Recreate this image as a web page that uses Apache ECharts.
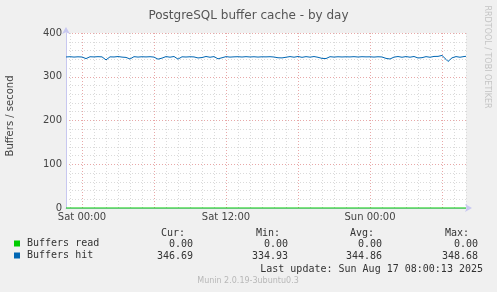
<!DOCTYPE html>
<html>
<head>
<meta charset="utf-8">
<script src="https://cdn.jsdelivr.net/npm/echarts@6/dist/echarts.min.js"></script>
<style>
html,body{margin:0;padding:0;background:#f0f0f0;}
#c{width:497px;height:292px;}
</style>
</head>
<body>
<div id="c"></div>
<script>
// ---- data ----
var titleText = 'PostgreSQL buffer cache - by day';
var yAxisName = 'Buffers / second';
var startDay = 'Fri', startMinute = 22 * 60 + 40; // first sample Fri 22:40, 10-minute steps
var stepMinutes = 10;
var tickLabels = ['Sat 00:00', 'Sat 12:00', 'Sun 00:00'];
var seriesNames = ['Buffers read', 'Buffers hit'];
var seriesColors = ['#00cc00', '#0066b3'];
var buffersHit = [
  345.2, 344.6, 345.8, 346.1, 345.0, 344.3, 345.6, 346.0, 345.1, 342.8,
  341.5, 344.9, 345.7, 346.2, 345.3, 344.8, 345.9, 346.3, 345.4, 343.6,
  338.6, 342.9, 345.5, 346.0, 345.2, 344.7, 346.2, 345.8, 344.9, 345.6,
  344.2, 342.1, 340.6, 344.3, 345.9, 346.1, 345.0, 344.5, 345.7, 346.4,
  345.3, 344.6, 345.8, 346.0, 344.9, 343.5, 340.2, 337.1, 342.6, 345.4,
  346.1, 345.2, 344.7, 345.9, 346.3, 344.1, 340.3, 343.2, 345.6, 346.0,
  345.1, 344.4, 345.7, 346.2, 345.3, 344.8, 343.0, 341.2, 343.9, 345.8,
  346.3, 345.0, 344.6, 345.9, 346.1, 344.2, 341.0, 338.2, 343.4, 345.7,
  346.0, 345.3, 344.9, 346.2, 345.5, 344.6, 345.8, 346.4, 345.1, 344.7,
  345.9, 346.1, 345.2, 344.5, 345.7, 346.3, 345.0, 344.8, 345.6, 346.0,
  345.4, 344.3, 345.8, 346.2, 345.1, 344.6, 343.4, 342.0, 343.1, 341.3,
  344.6, 345.9, 346.1, 345.2, 344.7, 345.8, 346.3, 345.0, 344.4, 345.7,
  346.0, 345.3, 344.8, 345.9, 346.2, 345.1, 344.5, 343.2, 342.0, 341.1,
  341.6, 344.4, 345.8, 346.1, 345.0, 344.6, 345.7, 346.4, 345.2, 344.9,
  345.6, 346.0, 345.3, 344.7, 345.9, 346.2, 345.1, 344.5, 345.8, 346.3,
  345.4, 344.8, 345.6, 346.1, 345.0, 344.4, 345.7, 346.0, 345.2, 343.8,
  342.0, 341.5, 340.6, 342.4, 344.9, 345.8, 346.2, 345.3, 344.6, 345.9,
  346.1, 345.2, 344.7, 345.8, 346.3, 344.2, 342.9, 341.5, 343.6, 345.7,
  346.0, 345.1, 344.6, 345.9, 346.4, 345.3, 346.6, 347.5, 348.68, 347.2,
  339.8, 334.93, 338.5, 343.2, 345.6, 346.1, 345.0, 344.6, 345.8, 346.2,
  346.69
];
var buffersRead = [
  0,0,0,0,0,0,0,0,0,0, 0,0,0,0,0,0,0,0,0,0,
  0,0,0,0,0,0,0,0,0,0, 0,0,0,0,0,0,0,0,0,0,
  0,0,0,0,0,0,0,0,0,0, 0,0,0,0,0,0,0,0,0,0,
  0,0,0,0,0,0,0,0,0,0, 0,0,0,0,0,0,0,0,0,0,
  0,0,0,0,0,0,0,0,0,0, 0,0,0,0,0,0,0,0,0,0,
  0,0,0,0,0,0,0,0,0,0, 0,0,0,0,0,0,0,0,0,0,
  0,0,0,0,0,0,0,0,0,0, 0,0,0,0,0,0,0,0,0,0,
  0,0,0,0,0,0,0,0,0,0, 0,0,0,0,0,0,0,0,0,0,
  0,0,0,0,0,0,0,0,0,0, 0,0,0,0,0,0,0,0,0,0,
  0,0,0,0,0,0,0,0,0,0, 0,0,0,0,0,0,0,0,0,0,
  0
];
var statHeaders = ['Cur:', 'Min:', 'Avg:', 'Max:'];
var statsRead = [0.00, 0.00, 0.00, 0.00];
var statsHit = [346.69, 334.93, 344.86, 348.68];
var lastUpdate = 'Last update: Sun Aug 17 08:00:13 2025';
var footerText = 'Munin 2.0.19-3ubuntu0.3';
var sideText = 'RRDTOOL / TOBI OETIKER';
var yTicks = [0, 100, 200, 300, 400];

// ---- time categories (x positions) ----
var days = ['Fri', 'Sat', 'Sun'];
function pad(n){ return (n < 10 ? '0' : '') + n; }
var categories = [];
for (var i = 0; i < buffersHit.length; i++) {
  var m = startMinute + i * stepMinutes;
  var d = days[Math.floor(m / 1440)];
  var mm = m % 1440;
  categories.push(d + ' ' + pad(Math.floor(mm / 60)) + ':' + pad(mm % 60));
}
function isHour(v){ return v.slice(-2) === '00'; }
function isSixHour(v){ return v.slice(-2) === '00' && (parseInt(v.slice(4,6),10) % 6 === 0); }

var mono = 'DejaVu Sans Mono';
var sans = 'DejaVu Sans';
var legColor = '#333';
var colRight = [193, 288, 382, 478];
var headRight = [185, 280, 374, 469];
var graphics = [];
statHeaders.forEach(function(h, k){
  graphics.push({type:'text', x: headRight[k], y: 233, style:{text:h, font:'10px ' + mono, fill:legColor, align:'right', verticalAlign:'middle'}});
  graphics.push({type:'text', x: colRight[k], y: 244, style:{text:statsRead[k].toFixed(2), font:'10px ' + mono, fill:legColor, align:'right', verticalAlign:'middle'}});
  graphics.push({type:'text', x: colRight[k], y: 256, style:{text:statsHit[k].toFixed(2), font:'10px ' + mono, fill:legColor, align:'right', verticalAlign:'middle'}});
});
graphics.push({type:'text', x: 483, y: 269, style:{text:lastUpdate, font:'10px ' + mono, fill:legColor, align:'right', verticalAlign:'middle'}});
graphics.push({type:'text', x: 248, y: 281, style:{text:footerText, font:'8px ' + sans, fill:'#b8b8b8', align:'center', verticalAlign:'middle'}});
graphics.push({type:'text', x: 487, y: 57, rotation: -Math.PI/2, style:{text:sideText, font:'8px ' + sans, fill:'#c4c4c4', align:'center', verticalAlign:'middle'}});
graphics.push({type:'text', x: 10, y: 116, rotation: Math.PI/2, style:{text:yAxisName, font:'10px ' + sans, fill:'#444', align:'center', verticalAlign:'middle'}});

var chart = echarts.init(document.getElementById('c'), null, {renderer:'canvas'});
chart.setOption({
  backgroundColor: '#f0f0f0',
  animation: false,
  title: {
    text: titleText, left: 'center', top: 5,
    textStyle: {fontFamily: sans, fontSize: 12, fontWeight: 'normal', color: '#555'}
  },
  legend: {
    orient: 'vertical', left: 14, top: 238, padding: 0, itemGap: 1,
    itemWidth: 6, itemHeight: 6, icon: 'rect',
    data: seriesNames,
    textStyle: {fontFamily: mono, fontSize: 10, color: legColor, lineHeight: 11, padding: [0,0,0,2]}
  },
  grid: {left: 66, top: 33, width: 400, height: 175, show: true, backgroundColor: '#ffffff', borderWidth: 0, containLabel: false},
  xAxis: [{
    type: 'category', data: categories, boundaryGap: false,
    axisLine: {show: false},
    axisTick: {show: false},
    axisLabel: {show: false},
    splitLine: {show: true, interval: function(idx, v){ return isHour(v) && !isSixHour(v); }, lineStyle: {color: '#dadada', type: [1, 2], width: 1}}
  }, {
    type: 'category', data: categories, boundaryGap: false, position: 'bottom',
    axisLine: {show: true, lineStyle: {color: '#c8c8f0', width: 1}, symbol: ['none', 'arrow'], symbolSize: [6, 7], symbolOffset: [0, 6]},
    axisTick: {show: false},
    axisLabel: {show: true, interval: function(idx, v){ return tickLabels.indexOf(v) >= 0; }, fontFamily: sans, fontSize: 10, color: '#444', margin: 4},
    splitLine: {show: true, interval: function(idx, v){ return isSixHour(v); }, lineStyle: {color: '#e8a8a8', type: [1, 2], width: 1}}
  }],
  yAxis: {
    type: 'value', min: 0, max: 400, interval: 100,
    axisLine: {show: true, lineStyle: {color: '#c8c8f0', width: 1}, symbol: ['none', 'arrow'], symbolSize: [6, 7], symbolOffset: [0, 6]},
    axisTick: {show: false},
    axisLabel: {fontFamily: sans, fontSize: 10, color: '#444', margin: 4, customValues: yTicks},
    splitLine: {show: true, lineStyle: {color: '#e8a8a8', type: [1, 2], width: 1}},
    minorTick: {show: false, splitNumber: 5},
    minorSplitLine: {show: true, lineStyle: {color: '#dadada', type: [1, 2], width: 1}}
  },
  series: [{
    name: seriesNames[0], type: 'line', xAxisIndex: 1, data: buffersRead,
    showSymbol: false, symbol: 'none', color: seriesColors[0], clip: false,
    lineStyle: {width: 1, color: seriesColors[0]}, z: 10, zlevel: 1
  }, {
    name: seriesNames[1], type: 'line', xAxisIndex: 1, data: buffersHit,
    showSymbol: false, symbol: 'none', color: seriesColors[1],
    lineStyle: {width: 1, color: seriesColors[1]}, z: 10
  }],
  graphic: graphics
});
</script>
</body>
</html>
